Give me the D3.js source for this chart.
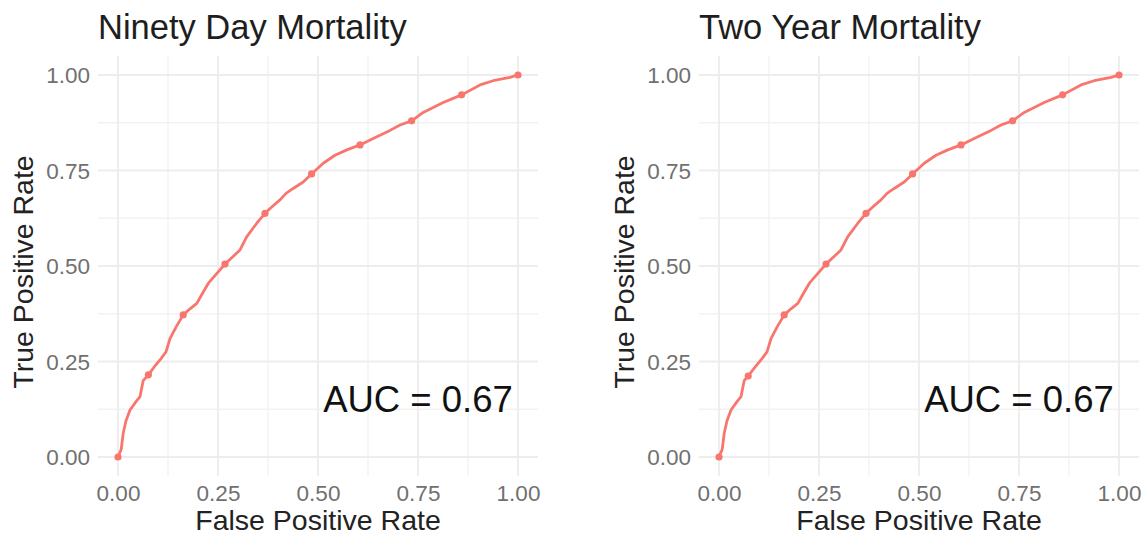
<!DOCTYPE html>
<html>
<head>
<meta charset="utf-8">
<script src="https://cdn.jsdelivr.net/npm/d3@7"></script>
<style>
  html, body { margin: 0; padding: 0; background: #fff; }
  svg { display: block; font-family: "Liberation Sans", Arial, sans-serif; }
</style>
</head>
<body>
<svg width="1143" height="535"></svg>
<script>
// panel titles
let panelTitles = ["Ninety Day Mortality", "Two Year Mortality"];

// ROC curve, ninety day
let ninetyFpr = [0, 0.008, 0.013, 0.02, 0.03, 0.045, 0.055, 0.063, 0.076, 0.09, 0.105, 0.12, 0.13, 0.145, 0.163, 0.18, 0.197, 0.212, 0.226, 0.245, 0.2675, 0.285, 0.305, 0.322, 0.347, 0.3675, 0.385, 0.405, 0.42, 0.438, 0.463, 0.484, 0.513, 0.5425, 0.572, 0.605, 0.638, 0.68, 0.705, 0.734, 0.763, 0.813, 0.859, 0.905, 0.938, 0.98, 1];
let ninetyTpr = [0, 0.02, 0.062, 0.095, 0.123, 0.145, 0.158, 0.2, 0.215, 0.235, 0.254, 0.275, 0.31, 0.34, 0.372, 0.388, 0.402, 0.43, 0.455, 0.478, 0.505, 0.522, 0.542, 0.577, 0.612, 0.638, 0.655, 0.673, 0.69, 0.703, 0.72, 0.741, 0.769, 0.79, 0.804, 0.817, 0.834, 0.855, 0.869, 0.88, 0.902, 0.928, 0.948, 0.974, 0.985, 0.994, 1];
let ninetyCutFpr = [0, 0.076, 0.163, 0.2675, 0.3675, 0.484, 0.605, 0.734, 0.859, 1];
let ninetyCutTpr = [0, 0.215, 0.372, 0.505, 0.638, 0.741, 0.817, 0.88, 0.948, 1];

// ROC curve, two year (looks the same as ninety day)
let twoYearFpr = [0, 0.008, 0.013, 0.02, 0.03, 0.045, 0.055, 0.063, 0.073, 0.09, 0.105, 0.12, 0.13, 0.145, 0.163, 0.18, 0.197, 0.212, 0.226, 0.245, 0.2675, 0.285, 0.305, 0.322, 0.347, 0.3675, 0.385, 0.405, 0.42, 0.438, 0.463, 0.484, 0.513, 0.5425, 0.572, 0.605, 0.638, 0.68, 0.705, 0.734, 0.763, 0.813, 0.859, 0.905, 0.938, 0.98, 1];
let twoYearTpr = [0, 0.02, 0.062, 0.095, 0.123, 0.145, 0.158, 0.2, 0.212, 0.235, 0.254, 0.275, 0.31, 0.34, 0.372, 0.388, 0.402, 0.43, 0.455, 0.478, 0.505, 0.522, 0.542, 0.577, 0.612, 0.638, 0.655, 0.673, 0.69, 0.703, 0.72, 0.741, 0.769, 0.79, 0.804, 0.817, 0.834, 0.855, 0.869, 0.88, 0.902, 0.928, 0.948, 0.974, 0.985, 0.994, 1];
let twoYearCutFpr = [0, 0.073, 0.163, 0.2675, 0.3675, 0.484, 0.605, 0.734, 0.859, 1];
let twoYearCutTpr = [0, 0.212, 0.372, 0.505, 0.638, 0.741, 0.817, 0.88, 0.948, 1];

// axes
let tickValues = [0, 0.25, 0.5, 0.75, 1];
let tickLabels = ["0.00", "0.25", "0.50", "0.75", "1.00"];
let minorTicks = [0.125, 0.375, 0.625, 0.875];
let xTitle = "False Positive Rate";
let yTitle = "True Positive Rate";

// annotation
let aucLabels = ["AUC = 0.67", "AUC = 0.67"];
let aucX = 0.75, aucY = 0.15;

let panels = [
    {title: panelTitles[0], fpr: ninetyFpr, tpr: ninetyTpr, cutFpr: ninetyCutFpr, cutTpr: ninetyCutTpr, auc: aucLabels[0]},
    {title: panelTitles[1], fpr: twoYearFpr, tpr: twoYearTpr, cutFpr: twoYearCutFpr, cutTpr: twoYearCutTpr, auc: aucLabels[1]}
];

let svg = d3.select("svg");
svg.append("rect").attr("width", 1143).attr("height", 535).attr("fill", "#fff");

let lineColor = "#F8766D";
let panelLeft = [118, 719],
    plotW = 400,
    plotTop = 75,
    plotH = 382,
    pad = 20;

panels.forEach(function(p, i) {
    let x = d3.scaleLinear().domain([0, 1]).range([panelLeft[i], panelLeft[i] + plotW]);
    let y = d3.scaleLinear().domain([0, 1]).range([plotTop + plotH, plotTop]);
    let g = svg.append("g");

    let x0 = x(0) - pad, x1 = x(1) + pad,
        y0 = y(0) + pad - 1, y1 = y(1) - pad + 1;

    // minor grid
    g.selectAll(".minor-v").data(minorTicks).enter().append("line")
        .attr("x1", d => x(d)).attr("x2", d => x(d))
        .attr("y1", y1).attr("y2", y0)
        .attr("stroke", "#f2f2f2").attr("stroke-width", 1.3);
    g.selectAll(".minor-h").data(minorTicks).enter().append("line")
        .attr("y1", d => y(d)).attr("y2", d => y(d))
        .attr("x1", x0).attr("x2", x1)
        .attr("stroke", "#f2f2f2").attr("stroke-width", 1.3);

    // major grid
    g.selectAll(".major-v").data(tickValues).enter().append("line")
        .attr("x1", d => x(d)).attr("x2", d => x(d))
        .attr("y1", y1).attr("y2", y0)
        .attr("stroke", "#ededed").attr("stroke-width", 1.8);
    g.selectAll(".major-h").data(tickValues).enter().append("line")
        .attr("y1", d => y(d)).attr("y2", d => y(d))
        .attr("x1", x0).attr("x2", x1)
        .attr("stroke", "#ededed").attr("stroke-width", 1.8);

    // axes (labels only, like theme_minimal)
    let xAxis = g.append("g")
        .attr("transform", "translate(0," + (y(0) + 44) + ")")
        .call(d3.axisBottom(x).tickValues(tickValues).tickSize(0)
            .tickFormat((d, k) => tickLabels[k]));
    let yAxis = g.append("g")
        .attr("transform", "translate(" + (x0 - 8) + ",0)")
        .call(d3.axisLeft(y).tickValues(tickValues).tickSize(0)
            .tickFormat((d, k) => tickLabels[k]));
    [xAxis, yAxis].forEach(function(a) {
        a.select(".domain").remove();
        a.selectAll("text")
            .attr("font-family", "'Liberation Sans', Arial, sans-serif")
            .attr("font-size", 22.5).attr("fill", "#707070");
    });
    xAxis.selectAll("text").attr("dy", 0).attr("y", 0);
    yAxis.selectAll("text").attr("x", 0).attr("dy", "0.35em");

    // ROC line
    let pts = p.fpr.map((v, k) => [v, p.tpr[k]]);
    g.append("path")
        .datum(pts)
        .attr("fill", "none")
        .attr("stroke", lineColor)
        .attr("stroke-width", 2.8)
        .attr("stroke-linejoin", "round")
        .attr("stroke-linecap", "round")
        .attr("d", d3.line().x(d => x(d[0])).y(d => y(d[1])));

    g.selectAll(".cut").data(p.cutFpr.map((v, k) => [v, p.cutTpr[k]])).enter()
        .append("circle")
        .attr("cx", d => x(d[0])).attr("cy", d => y(d[1]))
        .attr("r", 3.6).attr("fill", lineColor);

    // titles
    g.append("text")
        .attr("x", x0).attr("y", 39)
        .attr("font-size", 34.5).attr("fill", "#1e1e1e")
        .text(p.title);
    g.append("text")
        .attr("x", (x(0) + x(1)) / 2).attr("y", 530)
        .attr("text-anchor", "middle")
        .attr("font-size", 28.5).attr("fill", "#222")
        .text(xTitle);
    g.append("text")
        .attr("transform", "translate(" + (x(0) - 85) + "," + 272 + ") rotate(-90)")
        .attr("text-anchor", "middle")
        .attr("font-size", 28.5).attr("fill", "#222")
        .text(yTitle);

    // AUC annotation
    g.append("text")
        .attr("x", x(aucX)).attr("y", y(aucY)).attr("dy", "0.35em")
        .attr("text-anchor", "middle")
        .attr("font-size", 36.5).attr("fill", "#111")
        .text(p.auc);
});
</script>
</body>
</html>
